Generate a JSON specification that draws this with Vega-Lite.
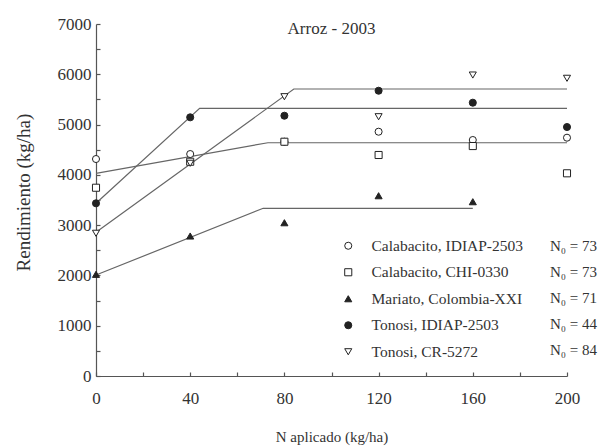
{
  "$schema": "https://vega.github.io/schema/vega-lite/v6.json",
  "autosize": "none",
  "width": 471,
  "height": 352,
  "padding": {"left": 96, "top": 24, "right": 35, "bottom": 70},
  "background": "white",
  "config": {
    "view": {"stroke": null},
    "font": "Liberation Serif",
    "axis": {"grid": false, "labelFlush": false, "labelOverlap": false, "domainColor": "#555", "tickColor": "#555", "domainWidth": 1.2, "tickWidth": 1.2, "labelColor": "#333", "titleColor": "#333", "labelFont": "Liberation Serif", "titleFont": "Liberation Serif", "titleFontWeight": "normal"}
  },
  "title": {"text": "Arroz - 2003", "anchor": "middle", "frame": "group", "baseline": "alphabetic", "offset": -8, "dy": 28, "fontSize": 17, "fontWeight": "normal", "color": "#333", "font": "Liberation Serif"},
  "datasets": {
    "obs": [
      {"series": "Calabacito, IDIAP-2503", "n0": "N₀ = 73", "N": 0, "yield": 4315},
      {"series": "Calabacito, IDIAP-2503", "n0": "N₀ = 73", "N": 40, "yield": 4414},
      {"series": "Calabacito, IDIAP-2503", "n0": "N₀ = 73", "N": 80, "yield": 4659},
      {"series": "Calabacito, IDIAP-2503", "n0": "N₀ = 73", "N": 120, "yield": 4858},
      {"series": "Calabacito, IDIAP-2503", "n0": "N₀ = 73", "N": 160, "yield": 4693},
      {"series": "Calabacito, IDIAP-2503", "n0": "N₀ = 73", "N": 200, "yield": 4739},
      {"series": "Calabacito, CHI-0330", "n0": "N₀ = 73", "N": 0, "yield": 3744},
      {"series": "Calabacito, CHI-0330", "n0": "N₀ = 73", "N": 40, "yield": 4261},
      {"series": "Calabacito, CHI-0330", "n0": "N₀ = 73", "N": 80, "yield": 4659},
      {"series": "Calabacito, CHI-0330", "n0": "N₀ = 73", "N": 120, "yield": 4395},
      {"series": "Calabacito, CHI-0330", "n0": "N₀ = 73", "N": 160, "yield": 4573},
      {"series": "Calabacito, CHI-0330", "n0": "N₀ = 73", "N": 200, "yield": 4031},
      {"series": "Mariato, Colombia-XXI", "n0": "N₀ = 71", "N": 0, "yield": 2022},
      {"series": "Mariato, Colombia-XXI", "n0": "N₀ = 71", "N": 40, "yield": 2784},
      {"series": "Mariato, Colombia-XXI", "n0": "N₀ = 71", "N": 80, "yield": 3048},
      {"series": "Mariato, Colombia-XXI", "n0": "N₀ = 71", "N": 120, "yield": 3585},
      {"series": "Mariato, Colombia-XXI", "n0": "N₀ = 71", "N": 160, "yield": 3466},
      {"series": "Tonosi, IDIAP-2503", "n0": "N₀ = 44", "N": 0, "yield": 3434},
      {"series": "Tonosi, IDIAP-2503", "n0": "N₀ = 44", "N": 40, "yield": 5144},
      {"series": "Tonosi, IDIAP-2503", "n0": "N₀ = 44", "N": 80, "yield": 5176},
      {"series": "Tonosi, IDIAP-2503", "n0": "N₀ = 44", "N": 120, "yield": 5673},
      {"series": "Tonosi, IDIAP-2503", "n0": "N₀ = 44", "N": 160, "yield": 5435},
      {"series": "Tonosi, IDIAP-2503", "n0": "N₀ = 44", "N": 200, "yield": 4951},
      {"series": "Tonosi, CR-5272", "n0": "N₀ = 84", "N": 0, "yield": 2838},
      {"series": "Tonosi, CR-5272", "n0": "N₀ = 84", "N": 40, "yield": 4230},
      {"series": "Tonosi, CR-5272", "n0": "N₀ = 84", "N": 80, "yield": 5554},
      {"series": "Tonosi, CR-5272", "n0": "N₀ = 84", "N": 120, "yield": 5156},
      {"series": "Tonosi, CR-5272", "n0": "N₀ = 84", "N": 160, "yield": 5985},
      {"series": "Tonosi, CR-5272", "n0": "N₀ = 84", "N": 200, "yield": 5920}
    ],
    "fits": [
      {"curve": "Calabacito", "N": 0, "yield": 4031},
      {"curve": "Calabacito", "N": 73, "yield": 4639},
      {"curve": "Calabacito", "N": 200, "yield": 4639},
      {"curve": "Tonosi, IDIAP-2503", "N": 0, "yield": 3435},
      {"curve": "Tonosi, IDIAP-2503", "N": 44, "yield": 5323},
      {"curve": "Tonosi, IDIAP-2503", "N": 200, "yield": 5323},
      {"curve": "Tonosi, CR-5272", "N": 0, "yield": 2857},
      {"curve": "Tonosi, CR-5272", "N": 84, "yield": 5707},
      {"curve": "Tonosi, CR-5272", "N": 200, "yield": 5707},
      {"curve": "Mariato, Colombia-XXI", "N": 0, "yield": 2008},
      {"curve": "Mariato, Colombia-XXI", "N": 71, "yield": 3335},
      {"curve": "Mariato, Colombia-XXI", "N": 160, "yield": 3335}
    ]
  },
  "encoding": {
    "x": {
      "field": "N", "type": "quantitative",
      "scale": {"domain": [0, 200], "nice": false, "zero": false},
      "axis": {
        "values": [0, 20, 40, 60, 80, 100, 120, 140, 160, 180, 200],
        "labelExpr": "datum.value % 40 === 0 ? datum.label : ''",
        "tickSize": -4, "labelPadding": 18, "labelFontSize": 17,
        "title": "N aplicado (kg/ha)", "titleFontSize": 15, "titlePadding": 23
      }
    },
    "y": {
      "field": "yield", "type": "quantitative",
      "scale": {"domain": [0, 7000], "nice": false},
      "axis": {
        "values": [0, 500, 1000, 1500, 2000, 2500, 3000, 3500, 4000, 4500, 5000, 5500, 6000, 6500, 7000],
        "format": "d",
        "labelExpr": "datum.value % 1000 === 0 ? datum.label : ''",
        "tickSize": -4, "labelPadding": 9, "labelFontSize": 17,
        "title": "Rendimiento (kg/ha)", "titleFontSize": 19, "titlePadding": 24, "titleY": 168
      }
    }
  },
  "layer": [
    {
      "data": {"name": "fits"},
      "mark": {"type": "line", "color": "#666", "strokeWidth": 1.2},
      "encoding": {"detail": {"field": "curve", "type": "nominal"}}
    },
    {
      "data": {"name": "obs"},
      "transform": [{"calculate": "datum.series + '|' + datum.n0", "as": "key"}],
      "mark": {"type": "point", "filled": true, "strokeWidth": 1, "size": 50},
      "encoding": {
        "stroke": {
          "field": "series", "type": "nominal",
          "scale": {
            "domain": ["Calabacito, IDIAP-2503", "Calabacito, CHI-0330", "Mariato, Colombia-XXI", "Tonosi, IDIAP-2503", "Tonosi, CR-5272"],
            "range": ["#222", "#222", "#222", "#222", "#222"]
          },
          "legend": {"orient": "none", "legendX": 244.5, "legendY": 214, "title": null, "padding": 0, "labelFont": "Liberation Serif", "labelFontSize": 15.5, "labelColor": "#333", "rowPadding": 9.5, "labelOffset": 15.5, "symbolStrokeWidth": 1, "symbolSize": 50, "symbolOpacity": 1}
        },
        "shape": {
          "field": "series", "type": "nominal",
          "scale": {
            "domain": ["Calabacito, IDIAP-2503", "Calabacito, CHI-0330", "Mariato, Colombia-XXI", "Tonosi, IDIAP-2503", "Tonosi, CR-5272"],
            "range": ["circle", "square", "triangle-up", "circle", "triangle-down"]
          },
          "legend": {"orient": "none", "legendX": 244.5, "legendY": 214, "title": null, "padding": 0, "labelFont": "Liberation Serif", "labelFontSize": 15.5, "labelColor": "#333", "rowPadding": 9.5, "labelOffset": 15.5, "symbolStrokeWidth": 1, "symbolSize": 50, "symbolOpacity": 1}
        },
        "fill": {
          "field": "series", "type": "nominal",
          "scale": {
            "domain": ["Calabacito, IDIAP-2503", "Calabacito, CHI-0330", "Mariato, Colombia-XXI", "Tonosi, IDIAP-2503", "Tonosi, CR-5272"],
            "range": ["white", "white", "#222", "#222", "white"]
          },
          "legend": {"orient": "none", "legendX": 244.5, "legendY": 214, "title": null, "padding": 0, "labelFont": "Liberation Serif", "labelFontSize": 15.5, "labelColor": "#333", "rowPadding": 9.5, "labelOffset": 15.5, "symbolStrokeWidth": 1, "symbolSize": 50, "symbolOpacity": 1}
        },
        "opacity": {
          "field": "key", "type": "ordinal",
          "scale": {
            "domain": ["Calabacito, IDIAP-2503|N₀ = 73", "Calabacito, CHI-0330|N₀ = 73", "Mariato, Colombia-XXI|N₀ = 71", "Tonosi, IDIAP-2503|N₀ = 44", "Tonosi, CR-5272|N₀ = 84"],
            "range": [1, 1, 1, 1, 1]
          },
          "legend": {"orient": "none", "legendX": 435, "legendY": 214, "title": null, "padding": 0, "labelExpr": "split(datum.label, '|')[1]", "labelFont": "Liberation Serif", "labelFontSize": 15, "labelColor": "#333", "rowPadding": 10, "labelOffset": 4, "symbolType": "M0,0", "symbolSize": 50, "symbolStrokeWidth": 0}
        }
      }
    }
  ]
}
